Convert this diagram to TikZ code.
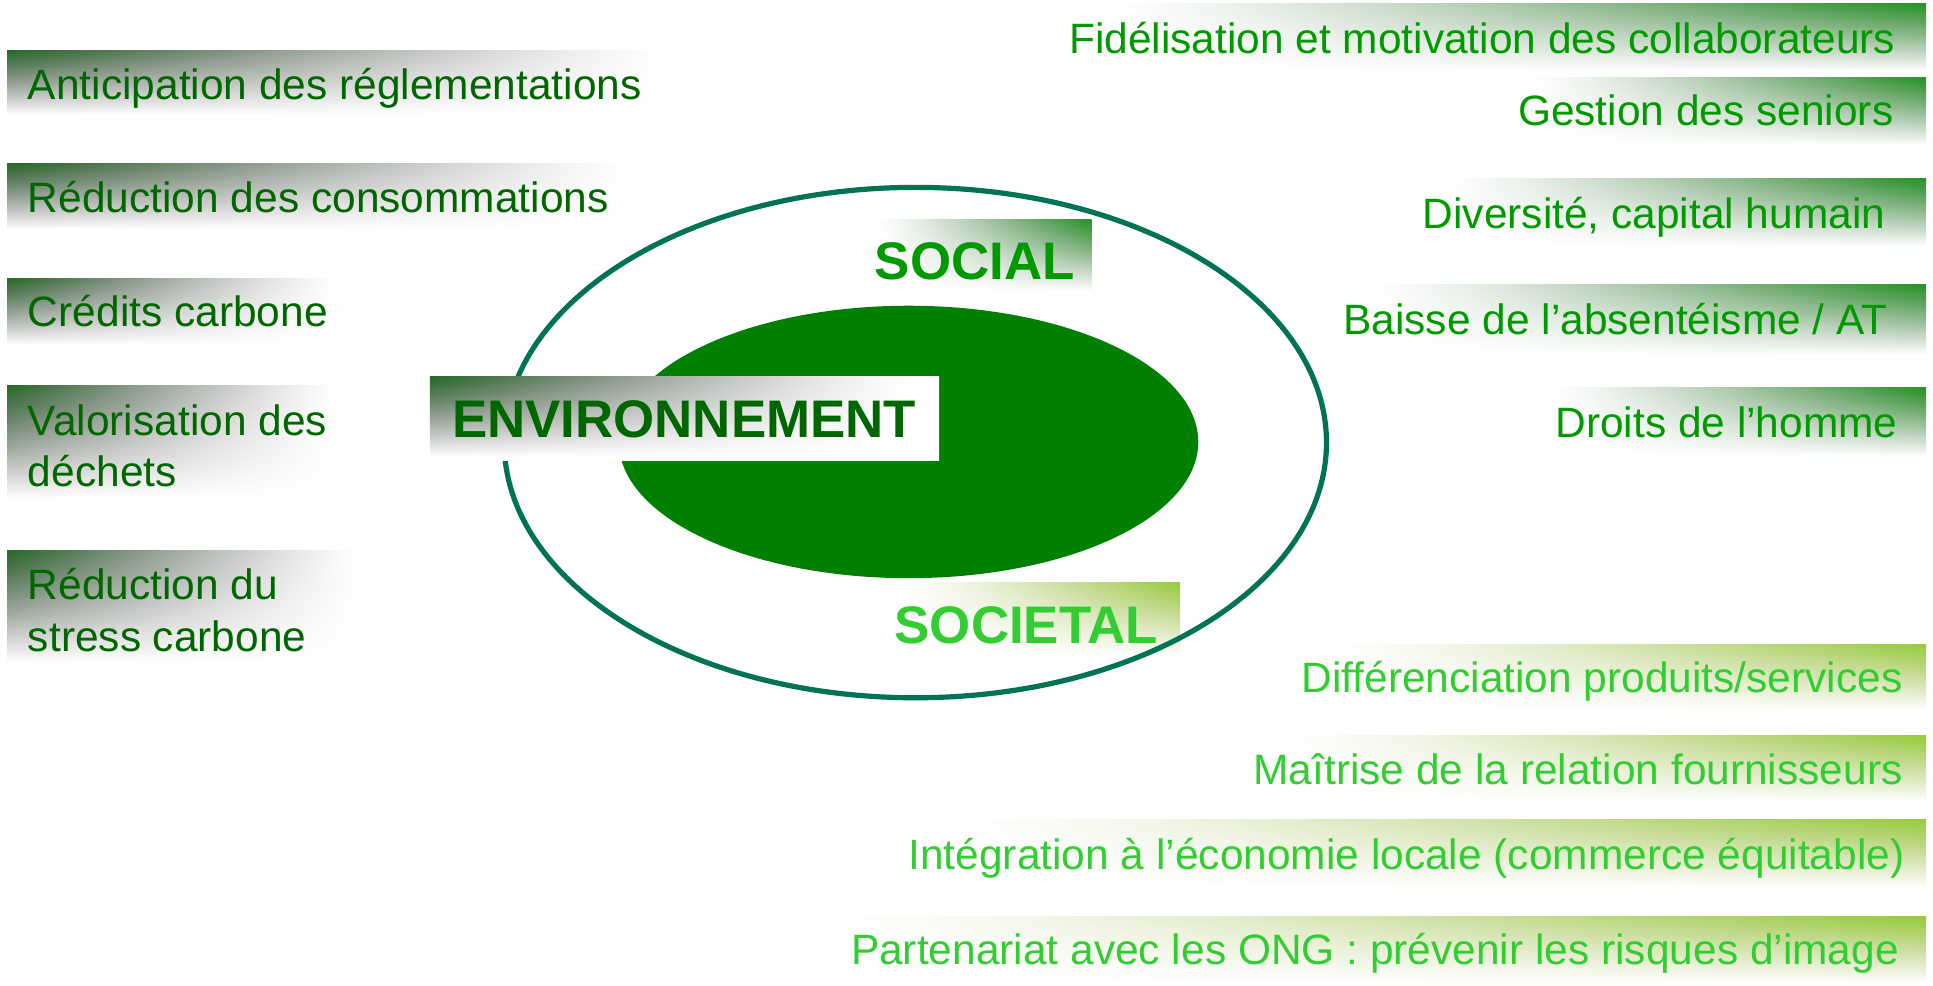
\documentclass[tikz,border=0pt]{standalone}
\usepackage{fontspec}
\setmainfont{Liberation Sans}
\usetikzlibrary{shapes.geometric}

\definecolor{envtext}{RGB}{0,102,0}
\definecolor{soctext}{RGB}{0,153,0}
\definecolor{stetext}{RGB}{51,204,51}
\definecolor{corefill}{RGB}{0,128,0}
\definecolor{ringcol}{RGB}{0,115,85}

% dark corner top left, fading to white
\pgfdeclarefunctionalshading{envfade}{\pgfpointorigin}{\pgfpoint{100bp}{100bp}}{}{
  75 exch sub 50 div 0.95 div 1 exch sub
  dup 0 lt {pop 0} if dup 1 gt {pop 1} if
  exch 25 sub 50 div 0.95 div 1 exch sub
  dup 0 lt {pop 0} if dup 1 gt {pop 1} if
  1.3 exp mul 1 exch sub
  dup 0.851 mul 0.149 add exch
  dup dup sqrt mul 0.576 mul 0.424 add exch
  0.851 mul 0.149 add
}
% dark corner top right
\pgfdeclarefunctionalshading{socfade}{\pgfpointorigin}{\pgfpoint{100bp}{100bp}}{}{
  75 exch sub 50 div 0.95 div 1 exch sub
  dup 0 lt {pop 0} if dup 1 gt {pop 1} if
  exch 75 exch sub 50 div 0.95 div 1 exch sub
  dup 0 lt {pop 0} if dup 1 gt {pop 1} if
  1.3 exp mul 1 exch sub
  dup 0.863 mul 0.137 add exch
  dup dup sqrt mul 0.412 mul 0.588 add exch
  0.863 mul 0.137 add
}
\pgfdeclarefunctionalshading{stefade}{\pgfpointorigin}{\pgfpoint{100bp}{100bp}}{}{
  75 exch sub 50 div 0.95 div 1 exch sub
  dup 0 lt {pop 0} if dup 1 gt {pop 1} if
  exch 75 exch sub 50 div 0.95 div 1 exch sub
  dup 0 lt {pop 0} if dup 1 gt {pop 1} if
  1.3 exp mul 1 exch sub
  dup 0.412 mul 0.588 add exch
  dup dup sqrt mul 0.196 mul 0.804 add exch
  0.765 mul 0.235 add
}

\begin{document}
\begin{tikzpicture}[lbox/.style={rectangle, anchor=north west, inner sep=0pt, shade, shading=envfade},rbox/.style={rectangle, anchor=north east, inner sep=0pt, shade, shading=socfade},gbox/.style={rectangle, anchor=north east, inner sep=0pt, shade, shading=stefade},ltxt/.style={anchor=base west, inner sep=0pt, text=envtext, align=left, font=\fontsize{9.8}{11.95}\selectfont},rtxt/.style={anchor=base east, inner sep=0pt, text=soctext, font=\fontsize{9.8}{11.95}\selectfont},gtxt/.style={anchor=base east, inner sep=0pt, text=stetext, font=\fontsize{9.8}{11.95}\selectfont},bigtxt/.style={anchor=base west, inner sep=0pt, font=\bfseries\fontsize{12.2}{14}\selectfont}]
  \useasboundingbox (0,0) rectangle (15.68,7.99);

  % environnement
  \node[lbox, minimum width=5.65cm, minimum height=0.55cm] (antic-b) at (0.05,7.59) {};
  \node[lbox, minimum width=5.35cm, minimum height=0.56cm] (reduc-b) at (0.05,6.67) {};
  \node[lbox, minimum width=2.85cm, minimum height=0.57cm] (credit-b) at (0.05,5.74) {};
  \node[lbox, minimum width=2.85cm, minimum height=0.96cm] (valor-b) at (0.05,4.87) {};
  \node[lbox, minimum width=3.03cm, minimum height=0.95cm] (stress-b) at (0.05,3.53) {};

  \node[ltxt] (antic) at (0.22,7.18) {Anticipation des réglementations};
  \node[ltxt] (reduc) at (0.22,6.265) {Réduction des consommations};
  \node[ltxt] (credit) at (0.22,5.34) {Crédits carbone};
  \node[ltxt] (valor) at (0.22,4.04) {Valorisation des\\déchets};
  \node[ltxt] (stress) at (0.22,2.705) {Réduction du\\stress carbone};

  % social
  \node[rbox, minimum width=7.01cm, minimum height=0.58cm] (fidel-b) at (15.63,7.97) {};
  \node[rbox, minimum width=3.42cm, minimum height=0.58cm] (senior-b) at (15.63,7.37) {};
  \node[rbox, minimum width=4.15cm, minimum height=0.58cm] (divers-b) at (15.63,6.55) {};
  \node[rbox, minimum width=4.79cm, minimum height=0.60cm] (absent-b) at (15.63,5.69) {};
  \node[rbox, minimum width=3.23cm, minimum height=0.58cm] (droits-b) at (15.63,4.85) {};

  \node[rtxt] (fidel) at (15.38,7.56) {Fidélisation et motivation des collaborateurs};
  \node[rtxt] (senior) at (15.365,6.97) {Gestion des seniors};
  \node[rtxt] (divers) at (15.30,6.14) {Diversité, capital humain};
  \node[rtxt] (absent) at (15.32,5.28) {Baisse de l’absentéisme / AT};
  \node[rtxt] (droits) at (15.40,4.44) {Droits de l’homme};

  % societal
  \node[gbox, minimum width=5.14cm, minimum height=0.56cm] (differ-b) at (15.63,2.77) {};
  \node[gbox, minimum width=5.57cm, minimum height=0.56cm] (fourn-b) at (15.63,2.03) {};
  \node[gbox, minimum width=8.35cm, minimum height=0.58cm] (integr-b) at (15.63,1.35) {};
  \node[gbox, minimum width=9.43cm, minimum height=0.56cm] (ong-b) at (15.63,0.56) {};

  \node[gtxt] (differ) at (15.44,2.37) {Différenciation produits/services};
  \node[gtxt] (fourn) at (15.44,1.624) {Maîtrise de la relation fournisseurs};
  \node[gtxt] (integr) at (15.456,0.934) {Intégration à l’économie locale (commerce équitable)};
  \node[gtxt] (ong) at (15.41,0.164) {Partenariat avec les ONG : prévenir les risques d’image};

  % centre
  \node[ellipse, fill=corefill, inner sep=0pt, minimum width=4.70cm, minimum height=2.21cm] (core) at (7.37,4.405) {};
  \node[rbox, minimum width=1.85cm, minimum height=0.61cm] (social-b) at (8.86,6.22) {};
  \node[bigtxt, text=soctext] (social) at (7.09,5.72) {SOCIAL};
  \node[gbox, minimum width=2.40cm, minimum height=0.62cm] (societal-b) at (9.58,3.27) {};
  \node[bigtxt, text=stetext] (societal) at (7.25,2.77) {SOCIETAL};
  \node[ellipse, draw=ringcol, line width=1.2pt, inner sep=0pt, minimum width=6.67cm, minimum height=4.14cm] (ring) at (7.425,4.40) {};
  \node[lbox, minimum width=4.13cm, minimum height=0.68cm] (env-b) at (3.48,4.94) {};
  \node[bigtxt, text=envtext] (env) at (3.66,4.44) {ENVIRONNEMENT};

\end{tikzpicture}
\end{document}
